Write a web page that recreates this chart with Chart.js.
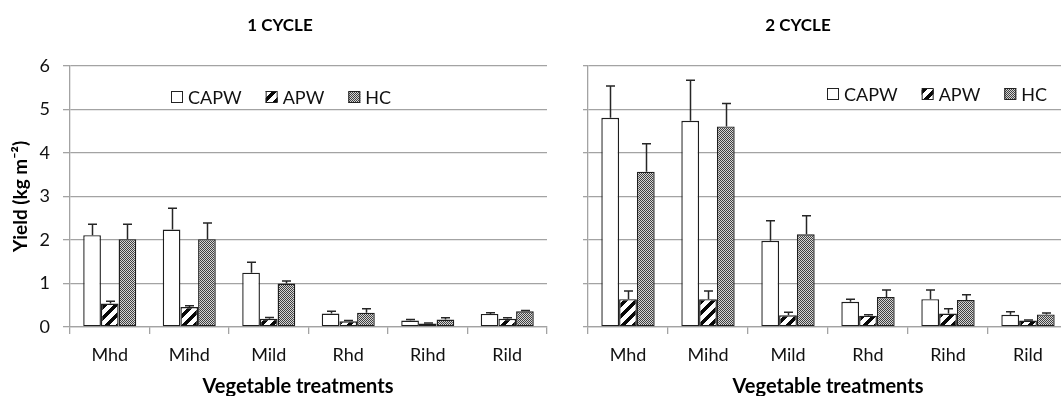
<!DOCTYPE html>
<html>
<head>
<meta charset="utf-8">
<script src="https://cdn.jsdelivr.net/npm/chart.js@4.4.1/dist/chart.umd.min.js"></script>
<style>
  html, body { margin: 0; padding: 0; background: #fff; overflow: hidden; width: 1061px; height: 396px; }
  #wrap { position: relative; width: 1061px; height: 396px; overflow: hidden; }
  .panel { position: absolute; top: 0; height: 396px; width: 560px; }
  #p1 { left: 0; }
  #p2 { left: 560px; }
</style>
</head>
<body>
<div id="wrap">
  <div class="panel" id="p1"><canvas id="c1" width="560" height="396"></canvas></div>
  <div class="panel" id="p2"><canvas id="c2" width="560" height="396"></canvas></div>
</div>
<script>
// Treatments and series
const categories = ['Mhd', 'Mihd', 'Mild', 'Rhd', 'Rihd', 'Rild'];
const seriesNames = ['CAPW', 'APW', 'HC'];
const yTickValues = [0, 1, 2, 3, 4, 5, 6];

// 1 CYCLE yield (kg m-2) and standard errors
const cycle1CAPW = [2.11, 2.24, 1.25, 0.31, 0.15, 0.30];
const cycle1APW  = [0.54, 0.46, 0.19, 0.13, 0.08, 0.19];
const cycle1HC   = [2.02, 2.02, 1.00, 0.33, 0.17, 0.36];
const cycle1CAPWErr = [0.25, 0.49, 0.24, 0.05, 0.02, 0.03];
const cycle1APWErr  = [0.05, 0.03, 0.03, 0.02, 0.01, 0.02];
const cycle1HCErr   = [0.34, 0.37, 0.06, 0.09, 0.04, 0.02];

// 2 CYCLE yield (kg m-2) and standard errors
const cycle2CAPW = [4.81, 4.74, 1.98, 0.58, 0.64, 0.28];
const cycle2APW  = [0.64, 0.64, 0.27, 0.26, 0.31, 0.15];
const cycle2HC   = [3.57, 4.61, 2.13, 0.69, 0.62, 0.29];
const cycle2CAPWErr = [0.73, 0.93, 0.46, 0.06, 0.21, 0.07];
const cycle2APWErr  = [0.19, 0.19, 0.07, 0.02, 0.11, 0.01];
const cycle2HCErr   = [0.64, 0.53, 0.43, 0.16, 0.12, 0.03];

const FONT = 'Lato, "Liberation Sans", sans-serif';

// Fill patterns: plain white, wide upward diagonal hatch, fine dotted grey
function hatchPattern() {
  const n = 11;
  const c = document.createElement('canvas');
  c.width = n; c.height = n;
  const g = c.getContext('2d');
  const img = g.createImageData(n, n);
  for (let y = 0; y < n; y++) {
    for (let x = 0; x < n; x++) {
      const k = (x + y) % n;
      const v = k < 5 ? 8 : 255;
      const i = (y * n + x) * 4;
      img.data[i] = img.data[i + 1] = img.data[i + 2] = v;
      img.data[i + 3] = 255;
    }
  }
  g.putImageData(img, 0, 0);
  return g.createPattern(c, 'repeat');
}
function dotPattern() {
  const c = document.createElement('canvas');
  c.width = 2; c.height = 2;
  const g = c.getContext('2d');
  g.fillStyle = '#d6d6d6'; g.fillRect(0, 0, 2, 2);
  g.fillStyle = '#404040'; g.fillRect(0, 0, 1, 1); g.fillRect(1, 1, 1, 1);
  return g.createPattern(c, 'repeat');
}
const fills = ['#ffffff', hatchPattern(), dotPattern()];

// Upper error bars drawn from the bar elements and the y scale
const errorBars = {
  id: 'errorBars',
  afterDatasetsDraw(chart) {
    const ctx = chart.ctx;
    const ys = chart.scales.y;
    chart.data.datasets.forEach((ds, i) => {
      const meta = chart.getDatasetMeta(i);
      meta.data.forEach((bar, j) => {
        const top = ys.getPixelForValue(ds.data[j] + ds.errors[j]);
        const x = Math.round(bar.x) + 0.5;
        ctx.save();
        ctx.strokeStyle = '#262626';
        ctx.lineWidth = 1.5;
        ctx.beginPath();
        ctx.moveTo(x, bar.y);
        ctx.lineTo(x, top);
        ctx.moveTo(x - 4.5, top);
        ctx.lineTo(x + 4.5, top);
        ctx.stroke();
        ctx.restore();
      });
    });
  }
};

// Legend placed inside the plot area
const innerLegend = {
  id: 'innerLegend',
  afterDraw(chart, args, opts) {
    const ctx = chart.ctx;
    const a = chart.chartArea;
    ctx.save();
    ctx.font = '18px ' + FONT;
    ctx.textBaseline = 'middle';
    let x = a.left + opts.dx;
    const y = a.top + opts.dy;
    chart.data.datasets.forEach(ds => {
      ctx.fillStyle = ds.backgroundColor;
      ctx.fillRect(x, y - 6, 12, 12);
      ctx.strokeStyle = '#222';
      ctx.lineWidth = 1;
      ctx.strokeRect(x + 0.5, y - 5.5, 11, 11);
      x += 12 + 5;
      ctx.fillStyle = '#111';
      ctx.fillText(ds.label, x, y + 1);
      x += ctx.measureText(ds.label).width + 24;
    });
    ctx.restore();
  }
};

// Panel heading, horizontal axis caption and (optionally) vertical axis caption
const captions = {
  id: 'captions',
  afterDraw(chart, args, opts) {
    const ctx = chart.ctx;
    const a = chart.chartArea;
    ctx.save();
    ctx.fillStyle = '#000';
    ctx.textAlign = 'center';
    ctx.textBaseline = 'middle';
    ctx.font = 'bold 17px ' + FONT;
    ctx.fillText(opts.title, opts.titleX, opts.titleY);
    ctx.font = 'bold 20px ' + FONT;
    ctx.fillText(opts.xTitle, opts.xTitleX, opts.xTitleY);
    if (opts.yTitle) {
      ctx.translate(opts.yTitleX, (a.top + a.bottom) / 2);
      ctx.rotate(-Math.PI / 2);
      ctx.font = 'bold 19px ' + FONT;
      ctx.fillText(opts.yTitle, 0, 0);
    }
    ctx.restore();
  }
};

function makeChart(id, values, errors, cfg) {
  const datasets = seriesNames.map((name, i) => ({
    label: name,
    data: values[i],
    errors: errors[i],
    backgroundColor: fills[i],
    borderColor: '#1e1e1e',
    borderWidth: 1.4,
    borderSkipped: false,
    categoryPercentage: 0.667,
    barPercentage: 1.0
  }));
  return new Chart(document.getElementById(id), {
    type: 'bar',
    data: { labels: categories, datasets },
    plugins: [errorBars, innerLegend, captions],
    options: {
      responsive: false,
      animation: false,
      devicePixelRatio: 1,
      layout: { padding: { top: 66, right: cfg.padRight, bottom: 0, left: 0 } },
      plugins: {
        legend: { display: false },
        tooltip: { enabled: false },
        innerLegend: { dx: cfg.legendDx, dy: cfg.legendDy },
        captions: cfg.captions
      },
      scales: {
        x: {
          type: 'category',
          offset: true,
          grid: { offset: true, drawOnChartArea: false, tickLength: 7, color: '#a3a3a3', lineWidth: 1.3 },
          border: { color: '#a3a3a3', width: 1.3 },
          ticks: { color: '#111', font: { family: FONT, size: 18 }, padding: 10, maxRotation: 0 },
          afterFit(s) { s.height = 69; }
        },
        y: {
          min: 0, max: 6,
          afterBuildTicks(s) { s.ticks = yTickValues.map(v => ({ value: v })); },
          grid: { color: '#a3a3a3', lineWidth: 1.3, tickLength: cfg.tickLen },
          border: { color: '#a3a3a3', width: 1.3 },
          ticks: { display: cfg.showYTicks, color: '#111', font: { family: FONT, size: 18 }, padding: 13 },
          afterFit(s) { s.width = cfg.yWidth; }
        }
      }
    }
  });
}

makeChart('c1', [cycle1CAPW, cycle1APW, cycle1HC], [cycle1CAPWErr, cycle1APWErr, cycle1HCErr], {
  padRight: 13, yWidth: 70, tickLen: 7, showYTicks: true,
  legendDx: 101, legendDy: 31,
  captions: { title: '1 CYCLE', titleX: 280, titleY: 26, xTitle: 'Vegetable treatments', xTitleX: 298, xTitleY: 387,
              yTitle: 'Yield (kg m\u207B\u00B2)', yTitleX: 21 }
});

makeChart('c2', [cycle2CAPW, cycle2APW, cycle2HC], [cycle2CAPWErr, cycle2APWErr, cycle2HCErr], {
  padRight: 52, yWidth: 28, tickLen: 5, showYTicks: false,
  legendDx: 239, legendDy: 28,
  captions: { title: '2 CYCLE', titleX: 238, titleY: 26, xTitle: 'Vegetable treatments', xTitleX: 268, xTitleY: 387 }
});
</script>
</body>
</html>
